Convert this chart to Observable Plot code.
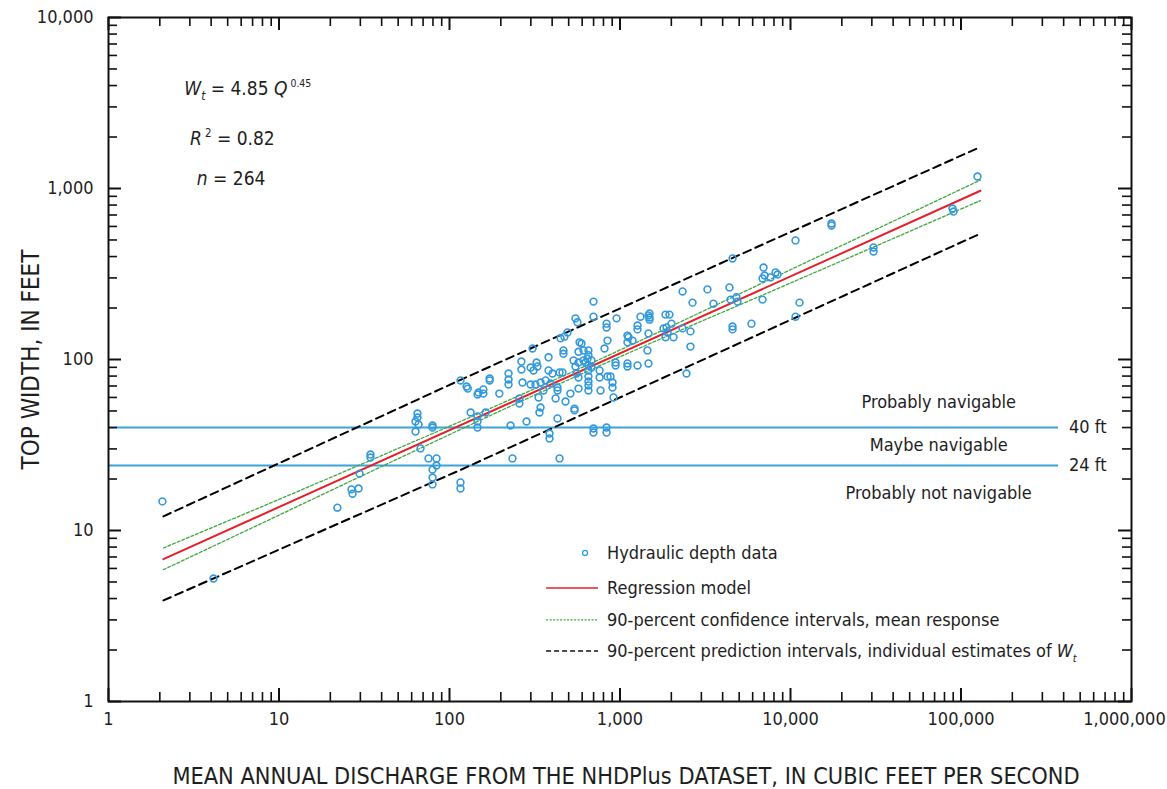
<!DOCTYPE html>
<html><head><meta charset="utf-8">
<script src="https://cdn.jsdelivr.net/npm/d3@7"></script>
<script src="https://cdn.jsdelivr.net/npm/@observablehq/plot@0.6"></script>
<style>
body{margin:0;background:#fff;}
</style></head><body><div id="chart"></div>
<script>
// ---- data ----
const dischargeCfs = [
 2.07, 4.13, 22.0, 26.6, 27.0, 29.3, 29.7, 34.4, 34.4, 64.9,
 64.9, 63.2, 65.8, 63.2, 67.6, 75.3, 83.9, 83.9, 79.5, 79.5,
 79.5, 79.5, 79.5, 116, 126, 128, 116, 116, 133, 146,
 146, 146, 163, 146, 148, 158, 158, 172, 172, 196,
 222, 222, 222, 228, 234, 257, 257, 264, 264, 268,
 283, 299, 307, 311, 324, 328, 299, 319, 342, 366,
 391, 333, 342, 337, 356, 381, 381, 402, 442, 460,
 386, 386, 419, 430, 430, 430, 442, 448, 472, 492,
 466, 466, 479, 512, 534, 548, 556, 571, 571, 611,
 628, 645, 680, 548, 563, 541, 541, 571, 579, 595,
 611, 653, 653, 571, 653, 653, 653, 653, 653, 653,
 680, 699, 699, 699, 699, 834, 834, 759, 759, 769,
 811, 834, 834, 845, 845, 880, 904, 904, 916, 942,
 942, 955, 1106, 1106, 1122, 1184, 1106, 1106, 1267, 1267,
 1267, 1318, 1469, 1449, 1469, 1469, 1490, 1490, 1490,
 1849, 1950, 2005, 1875, 1800, 1900, 1849, 2060, 2328, 2328,
 2590, 2590, 2455, 2663, 3258, 3532, 4385, 4446, 4819, 4887,
 4571, 4571, 4571, 5904, 6855, 6950, 7047, 7638, 8170, 8395,
 6855, 10700, 10700, 11300, 17400, 17400, 30700, 30700, 89100, 90400, 125000
];
const topWidthFt = [
 14.8, 5.24, 13.6, 17.4, 16.4, 17.6, 21.5, 27.8, 26.7, 48.3,
 45.8, 43.4, 41.7, 37.9, 30.2, 26.4, 26.4, 24.0, 22.7, 20.4,
 18.6, 41.1, 40.0, 75.4, 69.5, 67.6, 19.1, 17.6, 49.0, 46.5,
 43.4, 40.0, 49.0, 62.4, 64.1, 66.8, 63.2, 77.4, 75.4, 63.2,
 82.8, 76.4, 71.4, 41.1, 26.4, 59.2, 55.3, 97.3, 87.4, 73.3,
 43.4, 89.8, 116, 86.3, 96.0, 91.0, 71.4, 71.4, 73.3, 75.4,
 72.4, 60.0, 52.4, 49.0, 65.9, 103, 86.3, 82.8, 84.0, 84.0,
 36.9, 34.5, 59.2, 68.6, 65.9, 45.2, 26.4, 133, 136, 144,
 113, 108, 56.8, 63.2, 98.7, 91.0, 82.8, 78.5, 96.0, 98.7,
 96.0, 101, 98.7, 174, 165, 51.6, 50.4, 111, 126, 124,
 113, 113, 106, 67.6, 92.3, 86.3, 79.5, 74.3, 70.5, 65.9,
 89.8, 218, 178, 39.5, 37.4, 40.0, 37.4, 86.3, 78.5, 65.9,
 116, 162, 154, 129, 79.5, 79.5, 73.3, 68.6, 60.0, 96.0,
 92.3, 174, 138, 126, 135, 129, 94.8, 91.0, 158, 150,
 92.3, 178, 181, 113, 142, 94.8, 186, 176, 171,
 183, 183, 162, 154, 152, 144, 135, 135, 250, 152,
 146, 119, 82.8, 215, 257, 212, 264, 224, 231, 218,
 390, 156, 150, 162, 298, 345, 310, 302, 323, 314,
 224, 497, 178, 215, 624, 608, 452, 428, 764, 733, 1175
];
// regression model W = 4.85 Q^0.45 (end points as drawn)
const regressionQ = [2.1, 130000];
const regressionW = [6.8, 970];
// 90-percent confidence intervals, mean response
const confQ = [2.1, 10, 50, 200, 450, 1500, 10000, 130000];
const confUpperW = [7.9, 15.2, 30.2, 55.1, 79.0, 137, 335, 1120];
const confLowerW = [5.9, 12.3, 26.3, 50.2, 72.7, 124, 280, 850];
// 90-percent prediction intervals
const predQ = [2.1, 116, 130000];
const predUpperW = [12.1, 76, 1750];
const predLowerW = [3.9, 22.6, 545];
// navigability thresholds
const thresholdW = [40, 24];
const thresholdLabels = ["40 ft", "24 ft"];
const thresholdStartQ = 1, thresholdEndQ = 373000, thresholdLabelQ = 430000;
const zoneLabels = ["Probably navigable", "Maybe navigable", "Probably not navigable"];
const zoneW = [56, 31.4, 16.6];
const zoneQ = 74000;
// axes
const xTicks = [1, 10, 100, 1000, 10000, 100000, 1000000];
const xTickLabels = ["1", "10", "100", "1,000", "10,000", "100,000", "1,000,000"];
const yTicks = [1, 10, 100, 1000, 10000];
const yTickLabels = ["1", "10", "100", "1,000", "10,000"];
const xTitle = "MEAN ANNUAL DISCHARGE FROM THE NHDPlus DATASET, IN CUBIC FEET PER SECOND";
const yTitle = "TOP WIDTH, IN FEET";
const legendLabels = ["Hydraulic depth data", "Regression model", "90-percent confidence intervals, mean response", "90-percent prediction intervals, individual estimates of "];

// ---- tables ----
const points = dischargeCfs.map((q, i) => ({q, w: topWidthFt[i]}));
const reg = regressionQ.map((q, i) => ({q, w: regressionW[i]}));
const confU = confQ.map((q, i) => ({q, w: confUpperW[i]}));
const confL = confQ.map((q, i) => ({q, w: confLowerW[i]}));
const predU = predQ.map((q, i) => ({q, w: predUpperW[i]}));
const predL = predQ.map((q, i) => ({q, w: predLowerW[i]}));
const minorX = [], minorY = [];
for (let k = 0; k < 6; k++) for (let m = 2; m <= 9; m++) minorX.push(m * 10 ** k);
for (let k = 0; k < 4; k++) for (let m = 2; m <= 9; m++) minorY.push(m * 10 ** k);
const xTickIdx = xTicks.map((d, i) => i);

const FONT = "'Liberation Sans Narrow','DejaVu Sans Condensed','Roboto Condensed',sans-serif";
const WIDTH = 1167, HEIGHT = 789;
const mL = 108, mR = 36, mT = 17, mB = 88;
const innerW = WIDTH - mL - mR, innerH = HEIGHT - mT - mB;
const MAJ = 13, MIN = 9;
const BLUE = "#3399dd", LINEBLUE = "#3aa3d8", RED = "#e5202b", GREEN = "#3fa83f";
const INK = "#1e1e1e";

const plot = Plot.plot({
  width: WIDTH, height: HEIGHT,
  marginLeft: mL, marginRight: mR, marginTop: mT, marginBottom: mB,
  style: {fontFamily: FONT, fontSize: "17px", background: "white", color: INK},
  x: {type: "log", domain: [1, 1e6], axis: null},
  y: {type: "log", domain: [1, 1e4], axis: null},
  marks: [
    // thresholds
    Plot.ruleY(thresholdW, {y: d => d, x1: thresholdStartQ, x2: thresholdEndQ, stroke: LINEBLUE, strokeWidth: 2}),
    Plot.text(thresholdW, {y: d => d, x: thresholdLabelQ, text: (d, i) => thresholdLabels[i], textAnchor: "start", lineAnchor: "middle", fontSize: 18, fill: INK}),
    Plot.text(zoneLabels, {x: zoneQ, y: (d, i) => zoneW[i], text: d => d, textAnchor: "middle", lineAnchor: "middle", fontSize: 18, fill: INK}),
    // intervals
    Plot.line(predU, {x: "q", y: "w", stroke: "black", strokeWidth: 2, strokeDasharray: "8,5"}),
    Plot.line(predL, {x: "q", y: "w", stroke: "black", strokeWidth: 2, strokeDasharray: "8,5"}),
    Plot.line(confU, {x: "q", y: "w", stroke: GREEN, strokeWidth: 1.3, strokeDasharray: "3,2", curve: "catmull-rom"}),
    Plot.line(confL, {x: "q", y: "w", stroke: GREEN, strokeWidth: 1.3, strokeDasharray: "3,2", curve: "catmull-rom"}),
    Plot.line(reg, {x: "q", y: "w", stroke: RED, strokeWidth: 2}),
    // data
    Plot.dot(points, {x: "q", y: "w", r: 3.4, stroke: BLUE, strokeWidth: 1.6, fill: "none"}),
    // frame and inward ticks
    Plot.frame({stroke: "#111", strokeWidth: 2}),
    Plot.tickX(xTicks, {x: d => d, insetTop: innerH - MAJ, stroke: "#111", strokeWidth: 2}),
    Plot.tickX(minorX, {x: d => d, insetTop: innerH - MIN, stroke: "#111", strokeWidth: 1.6}),
    Plot.tickX(xTicks, {x: d => d, insetBottom: innerH - MAJ, stroke: "#111", strokeWidth: 2}),
    Plot.tickX(minorX, {x: d => d, insetBottom: innerH - MIN, stroke: "#111", strokeWidth: 1.6}),
    Plot.tickY(yTicks, {y: d => d, insetRight: innerW - MAJ, stroke: "#111", strokeWidth: 2}),
    Plot.tickY(minorY, {y: d => d, insetRight: innerW - MIN, stroke: "#111", strokeWidth: 1.6}),
    Plot.tickY(yTicks, {y: d => d, insetLeft: innerW - MAJ, stroke: "#111", strokeWidth: 2}),
    Plot.tickY(minorY, {y: d => d, insetLeft: innerW - MIN, stroke: "#111", strokeWidth: 1.6}),
    // tick labels (the last one is nudged inside the page like the reference)
    Plot.text(xTickIdx.slice(0, -1), {x: i => xTicks[i], frameAnchor: "bottom", dy: 18, text: i => xTickLabels[i], textAnchor: "middle", lineAnchor: "middle", fontSize: 18, fill: INK}),
    Plot.text(xTickIdx.slice(-1), {x: i => xTicks[i], frameAnchor: "bottom", dy: 18, dx: -7, text: i => xTickLabels[i], textAnchor: "middle", lineAnchor: "middle", fontSize: 18, fill: INK}),
    Plot.text(yTicks, {y: d => d, frameAnchor: "left", dx: -15, textAnchor: "end", lineAnchor: "middle", text: (d, i) => yTickLabels[i], fontSize: 18, fill: INK}),
    // axis titles
    Plot.text([xTitle], {frameAnchor: "bottom", dy: 75, dx: 6, text: d => d, textAnchor: "middle", lineAnchor: "middle", fontSize: 23.3, fill: INK}),
    Plot.text([yTitle], {frameAnchor: "left", dx: -77, rotate: -90, text: d => d, textAnchor: "middle", lineAnchor: "middle", fontSize: 24, fill: INK})
  ]
});
document.getElementById("chart").appendChild(plot);

// ---- rich-text annotations and legend ----
const sx = plot.scale("x"), sy = plot.scale("y");
const svg = d3.select(plot);
const ann = svg.append("g").attr("font-family", FONT).attr("fill", INK).attr("text-anchor", "start");
function rich(g, x, y, parts, size) {
  const t = g.append("text").attr("x", x).attr("y", y).attr("font-size", size);
  parts.forEach(p => {
    const s = t.append("tspan").text(p.t);
    if (p.i) s.attr("font-style", "italic");
    s.attr("font-size", p.s ? size * p.s : size);
    if (p.dy) s.attr("dy", p.dy);
    if (p.dx) s.attr("dx", p.dx);
  });
  return t;
}
rich(ann, sx.apply(2.8), sy.apply(3500), [
  {t: "W", i: 1}, {t: "t", i: 1, s: 0.62, dy: 5}, {t: " = 4.85 ", dy: -5},
  {t: "Q", i: 1}, {t: "0.45", s: 0.55, dy: -8, dx: 3}], 19);
rich(ann, sx.apply(3.03), sy.apply(1780), [
  {t: "R", i: 1}, {t: "2", s: 0.6, dy: -8, dx: 3}, {t: " = 0.82", dy: 8}], 19);
rich(ann, sx.apply(3.32), sy.apply(1040), [{t: "n", i: 1}, {t: " = 264"}], 19);

// legend
const lg = svg.append("g").attr("font-family", FONT).attr("font-size", 18).attr("fill", INK).attr("text-anchor", "start");
const lx0 = sx.apply(371), lx1 = sx.apply(748), ltx = sx.apply(845), ldot = sx.apply(628);
const rows = [7.34, 4.58, 2.98, 1.96].map(w => sy.apply(w));
lg.append("circle").attr("cx", ldot).attr("cy", rows[0]).attr("r", 2.5).attr("fill", "none").attr("stroke", BLUE).attr("stroke-width", 1.3);
lg.append("line").attr("x1", lx0).attr("x2", lx1).attr("y1", rows[1]).attr("y2", rows[1]).attr("stroke", RED).attr("stroke-width", 1.5);
lg.append("line").attr("x1", lx0).attr("x2", lx1).attr("y1", rows[2]).attr("y2", rows[2]).attr("stroke", GREEN).attr("stroke-width", 1.2).attr("stroke-dasharray", "2,1.5");
lg.append("line").attr("x1", lx0).attr("x2", lx1).attr("y1", rows[3]).attr("y2", rows[3]).attr("stroke", "#111").attr("stroke-width", 1.5).attr("stroke-dasharray", "5,3");
legendLabels.slice(0, 3).forEach((s, i) => lg.append("text").attr("x", ltx).attr("y", rows[i]).attr("dy", "0.35em").text(s));
const last = lg.append("text").attr("x", ltx).attr("y", rows[3]).attr("dy", "0.35em");
last.append("tspan").text(legendLabels[3]);
last.append("tspan").attr("font-style", "italic").text("W");
last.append("tspan").attr("font-style", "italic").attr("font-size", 11).attr("dy", 5).text("t");
</script></body></html>
